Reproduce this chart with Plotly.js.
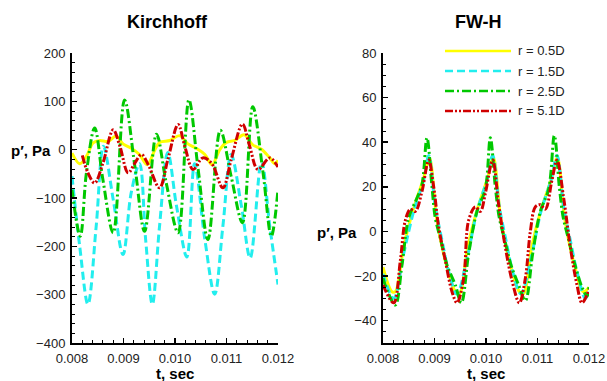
<!DOCTYPE html>
<html>
<head>
<meta charset="utf-8">
<script src="https://cdn.plot.ly/plotly-3.0.1.min.js"></script>
<style>html,body{margin:0;padding:0;background:#fff;}#chart{width:607px;height:381px;}</style>
</head>
<body>
<div id="chart"></div>
<script>
// ---- Kirchhoff (left panel) ----
const kY_t = [.00800,.00815,.00828,.00841,.00854,.00870,.00886,.00899,.00915,.00931,.00946,.00961,.00970,.00990,.01009,.01025,.01041,.01058,.01072,.01087,.01100,.01116,.01134,.01151,.01168,.01184,.01194,.01200];
const kY_p = [-7,-29,-14,14,19,17,28,12,3,-10,-31,0,15,19,29,12,3,-10,-31,0,15,19,31,10,1,-17,-29,-22];

const kC_t = [.00800,.00815,.00831,.00847,.00861,.00880,.00899,.00915,.00931,.00943,.00956,.00970,.00986,.01003,.01023,.01038,.01058,.01077,.01093,.01109,.01129,.01146,.01168,.01184,.01200];
const kC_p = [-55,-200,-320,-158,7,-103,-217,-89,-29,-186,-320,-158,-6,-117,-222,-29,-186,-299,-158,-10,-117,-224,-24,-158,-279];

const kG_t = [.00800,.00816,.00828,.00844,.00860,.00880,.00902,.00922,.00941,.00964,.00983,.01006,.01027,.01045,.01064,.01088,.01109,.01131,.01151,.01171,.01187,.01200];
const kG_p = [-83,-179,-48,45,-62,-172,103,-34,-169,32,-69,-172,103,-41,-186,40,-55,-151,89,-48,-179,-83];

const kR_t = [.00820,.00831,.00844,.00860,.00880,.00893,.00909,.00922,.00935,.00948,.00970,.00986,.01006,.01019,.01035,.01054,.01071,.01093,.01109,.01131,.01145,.01161,.01184,.01200];
const kR_p = [-12,-48,-69,-28,41,7,-48,-28,-10,-31,-79,-21,52,7,-41,-17,-28,-79,-21,53,7,-41,-17,-36];

// ---- FW-H (right panel) ----
const fY_t = [.008000,.008175,.008239,.008401,.008563,.008790,.008900,.009048,.009243,.009404,.009482,.009644,.009806,.010032,.010142,.010291,.010485,.010647,.010725,.010887,.011048,.011275,.011385,.011534,.011728,.011890,.012000];
const fY_p = [-16,-27,-27,-7,8,24,33,5,-16,-27,-28,-7,8,24,33,5,-16,-27,-28,-7,8,24,33,5,-16,-27,-25];

const fC_t = [.008000,.008207,.008401,.008595,.008790,.008887,.009016,.009146,.009275,.009437,.009631,.009825,.010019,.010129,.010259,.010388,.010518,.010679,.010874,.011068,.011262,.011378,.011508,.011637,.011767,.011929,.012000];
const fC_p = [-19,-30,-10,9,23,34,11,-4,-18,-28,-12,9,23,34,11,-4,-18,-28,-12,9,23,34,11,-4,-18,-30,-27];

const fG_t = [.008000,.008110,.008239,.008369,.008498,.008660,.008757,.008854,.008951,.009016,.009113,.009243,.009404,.009521,.009663,.009825,.009987,.010084,.010181,.010259,.010356,.010485,.010634,.010764,.010906,.011055,.011217,.011327,.011424,.011501,.011598,.011728,.011864,.011961,.012000];
const fG_p = [-21,-28,-33,-15,6,15,21,42,20,6,-3,-15,-24,-32,-10,9,19,42,20,6,-3,-15,-24,-31,-10,9,19,43,20,6,-3,-15,-25,-29,-25];

const fR_t = [.008000,.008207,.008337,.008434,.008531,.008628,.008757,.008887,.008984,.009081,.009210,.009340,.009437,.009566,.009663,.009793,.009890,.009987,.010129,.010246,.010375,.010505,.010647,.010764,.010861,.010958,.011055,.011152,.011281,.011378,.011508,.011637,.011767,.011864,.012000];
const fR_p = [-24,-32,-13,5,10,9,18,32,20,2,-13,-27,-32,-21,5,11,9,17,32,12,-7,-22,-32,-21,0,11,12,10,23,32,15,-7,-24,-32,-26];

// ---- labels ----
const seriesNames = ['r = 0.5D','r = 1.5D','r = 2.5D','r = 5.1D'];
const panelTitles = ['Kirchhoff','FW-H'];
const xTickVals = [0.008,0.009,0.010,0.011,0.012];
const xTickText = ['0.008','0.009','0.010','0.011','0.012'];

const styles = [
  {color:'#ffff00', dash:'solid'},
  {color:'#22eeee', dash:'8px,4px'},
  {color:'#00c800', dash:'9px,3px,2px,3px'},
  {color:'#d00000', dash:'8px,2px,2px,2px,2px,2px'}
];

const FONT = 'Liberation Sans, Arial, Helvetica, sans-serif';

function tr(x, y, i, xa, ya){
  return {x:x, y:y, xaxis:xa, yaxis:ya, type:'scatter', mode:'lines', name:seriesNames[i],
    showlegend:false, hoverinfo:'skip',
    line:{color:styles[i].color, dash:styles[i].dash, width:3, shape:'spline', smoothing:1}};
}

const data = [
  tr(kY_t,kY_p,0,'x','y'), tr(kC_t,kC_p,1,'x','y'), tr(kG_t,kG_p,2,'x','y'), tr(kR_t,kR_p,3,'x','y'),
  tr(fY_t,fY_p,0,'x2','y2'), tr(fC_t,fC_p,1,'x2','y2'), tr(fG_t,fG_p,2,'x2','y2'), tr(fR_t,fR_p,3,'x2','y2')
];

function xax(dom, anchor){
  return {domain:dom, anchor:anchor, range:[0.008,0.012], tickvals:xTickVals, ticktext:xTickText,
    ticks:'inside', ticklen:5, tickwidth:1.5, tickcolor:'#000',
    minor:{tickvals:[0.0082,0.0084,0.0086,0.0088,0.0092,0.0094,0.0096,0.0098,0.0102,0.0104,0.0106,0.0108,0.0112,0.0114,0.0116,0.0118], ticks:'inside', ticklen:3, tickwidth:1, tickcolor:'#000'},
    showline:true, linewidth:2, linecolor:'#000', showgrid:false, zeroline:false,
    tickfont:{family:FONT, size:13, color:'#222'}, ticklabelstandoff:2};
}
function yax(dom, anchor, range, dtick, mdtick){
  return {domain:dom, anchor:anchor, range:range, tick0:0, dtick:dtick,
    ticks:'inside', ticklen:5, tickwidth:1.5, tickcolor:'#000',
    minor:{tick0:0, dtick:mdtick, ticks:'inside', ticklen:3, tickwidth:1, tickcolor:'#000'},
    showline:true, linewidth:2, linecolor:'#000', showgrid:false, zeroline:false,
    tickfont:{family:FONT, size:13, color:'#222'}, ticklabelstandoff:2};
}

const W = 607, H = 381;
const px = v => v / W, py = v => 1 - v / H;

const legendY = [51, 71, 91, 111];
const shapes = [], annotations = [];
legendY.forEach((yy, i) => {
  shapes.push({type:'line', xref:'paper', yref:'paper', x0:px(445), x1:px(511), y0:py(yy), y1:py(yy),
    line:{color:styles[i].color, width:2.5, dash:styles[i].dash}});
  annotations.push({xref:'paper', yref:'paper', x:px(516), y:py(yy), xanchor:'left', yanchor:'middle',
    text:seriesNames[i], showarrow:false, font:{family:FONT, size:13, color:'#222'}});
});

const bold = (t, x, y, size, xanchor) => ({xref:'paper', yref:'paper', x:px(x), y:py(y), xanchor:xanchor||'center', yanchor:'middle',
  text:'<b>'+t+'</b>', showarrow:false, font:{family:FONT, size:size, color:'#000'}});

annotations.push(bold(panelTitles[0], 167, 22, 18));
annotations.push(bold(panelTitles[1], 478, 22, 18));
annotations.push(bold('p′, Pa', 9, 150, 15, 'left'));
annotations.push(bold('p′, Pa', 315, 232, 15, 'left'));
annotations.push(bold('t, sec', 175, 373, 15));
annotations.push(bold('t, sec', 486, 373, 15));

const layout = {
  width:W, height:H, autosize:false,
  margin:{l:0, r:0, t:0, b:0, pad:0},
  paper_bgcolor:'#fff', plot_bgcolor:'#fff',
  showlegend:false,
  font:{family:FONT},
  xaxis: xax([px(72), px(278)], 'y'),
  yaxis: yax([1-343/H, 1-53/H], 'x', [-400,200], 100, 20),
  xaxis2: xax([px(383), px(589)], 'y2'),
  yaxis2: yax([1-343/H, 1-53/H], 'x2', [-50,80], 20, 5),
  shapes: shapes,
  annotations: annotations
};

Plotly.newPlot('chart', data, layout, {staticPlot:true, displayModeBar:false});
</script>
</body>
</html>
